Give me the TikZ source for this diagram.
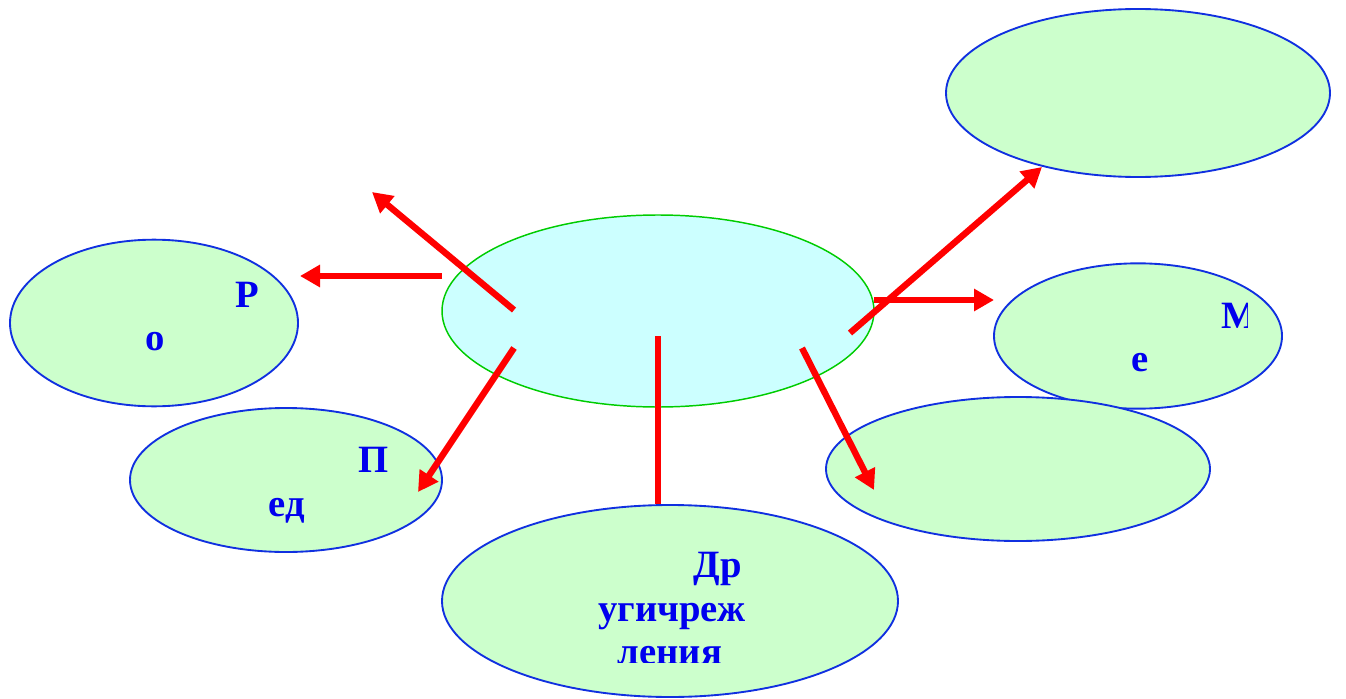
\documentclass[tikz,border=0pt]{standalone}
\usepackage{fontspec}
\setmainfont{Liberation Serif}
\usetikzlibrary{arrows.meta,positioning,shapes.geometric}
\definecolor{hubfill}{HTML}{CCFFFF}
\definecolor{hubline}{HTML}{00CC00}
\definecolor{leaffill}{HTML}{CCFFCC}
\definecolor{leafline}{HTML}{1030E0}
\definecolor{wordblue}{HTML}{0000EE}

\begin{document}
\begin{tikzpicture}[x=0.75pt,y=-0.75pt,
      hub/.style={ellipse, draw=hubline, fill=hubfill, line width=1.1pt, inner sep=0pt},
      leaf/.style={ellipse, draw=leafline, fill=leaffill, line width=1.4pt, inner sep=0pt},
      word/.style={text=wordblue, font=\fontsize{29}{34}\selectfont\bfseries, inner sep=0pt, anchor=base},
      ray/.style={red, line width=4.8pt, -{Triangle[length=15pt,width=16pt]}},
      stem/.style={red, line width=4.8pt}]
     \useasboundingbox (0,0) rectangle (1346,699);
     % ellipses
     \node[hub, minimum width=324pt, minimum height=144pt] (centre) at (658,311) {};
     \node[leaf, minimum width=288pt, minimum height=126pt] (topright) at (1138,93) {};
     \node[leaf, minimum width=216pt, minimum height=125pt] (ro) at (154,323) {};
     \node[leaf, minimum width=234pt, minimum height=108pt] (ped) at (286,480) {};
     \node[leaf, minimum width=342pt, minimum height=144pt] (drugie) at (670,601) {};
     \node[leaf, minimum width=216pt, minimum height=109pt] (me) at (1138,336) {};
     \node[leaf, minimum width=288pt, minimum height=108pt] (lowright) at (1018,469) {};
     % words
     \node[word] (roA) at (247,307) {Р};
     \node[word] (roB) at (155,350) {о};
     \node[word] (pedA) at (374,472) {П};
     \node[word] (pedB) at (287,516) {ед};
     \begin{scope}
       \clip (1180,280) rectangle (1247,340);
       \node[word, anchor=base west] (meA) at (1221,328) {М};
     \end{scope}
     \node[word] (meB) at (1140,371) {е};
     \node[word] (drA) at (718,577) {Др};
     \node[word] (drB) at (672,621) {угичреж};
     \begin{scope}
       \clip (600,630) rectangle (740,662);
       \node[word] (drC) at (670,664) {ления};
     \end{scope}
     % arrow ends
     \coordinate (upleftS) at (514,310);  \coordinate (upleftE) at (372,192);
     \coordinate (leftS) at (442,276);    \coordinate (leftE) at (300,276);
     \coordinate (pedS) at (514,348);     \coordinate (pedE) at (418,492);
     \coordinate (stemS) at (658,336);
     \coordinate (lowS) at (802,348);     \coordinate (lowE) at (874,490);
     \coordinate (topS) at (850,333);     \coordinate (topE) at (1042,167);
     \coordinate (meS) at (874,300);      \coordinate (meE) at (994,300);
     \draw[ray] (upleftS) -- (upleftE);
     \draw[ray] (leftS) -- (leftE);
     \draw[ray] (pedS) -- (pedE);
     \draw[stem] (stemS) -- (stemS |- drugie.north);
     \draw[ray] (lowS) -- (lowE);
     \draw[ray] (topS) -- (topE);
     \draw[ray] (meS) -- (meE);
    \end{tikzpicture}
\end{document}
